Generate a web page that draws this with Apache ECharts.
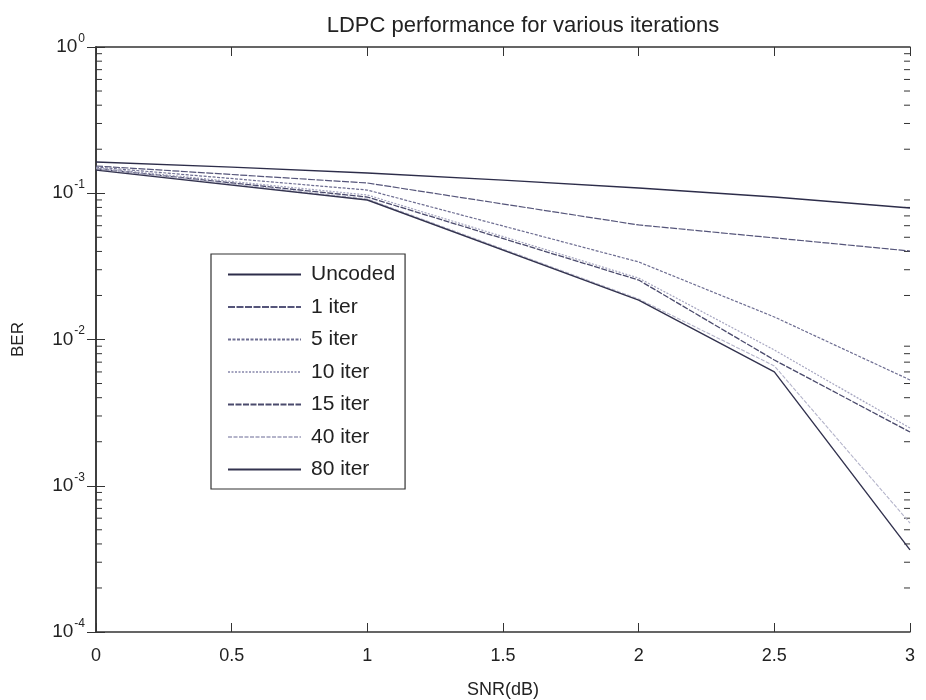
<!DOCTYPE html>
<html>
<head>
<meta charset="utf-8">
<script src="https://cdn.jsdelivr.net/npm/echarts@6/dist/echarts.min.js"></script>
<style>
  html, body { margin: 0; padding: 0; background: #fff; }
  #chart { width: 926px; height: 700px; }
</style>
</head>
<body>
<div id="chart"></div>
<script>
// SNR points (dB)
const snrUncoded = [0, 0.5, 1, 1.5, 2, 2.5, 3];
const snrCoded = [0, 1, 2, 2.5, 3];

// Bit error rates
const berUncoded = [0.1636, 0.151, 0.1375, 0.123, 0.1086, 0.0943, 0.0793];
const ber1 = [0.1536, 0.1175, 0.0607, 0.0495, 0.0403];
const ber5 = [0.151, 0.1052, 0.0339, 0.01426, 0.00529];
const ber10 = [0.149, 0.0973, 0.0263, 0.00848, 0.00248];
const ber15 = [0.147, 0.0942, 0.0255, 0.00724, 0.00233];
const ber40 = [0.147, 0.0914, 0.0189, 0.0066, 0.000556];
const ber80 = [0.144, 0.0899, 0.0186, 0.0060, 0.000364];

const seriesNames = ['Uncoded', '1 iter', '5 iter', '10 iter', '15 iter', '40 iter', '80 iter'];
const xTickLabels = ['0', '0.5', '1', '1.5', '2', '2.5', '3'];

// minor ticks of the log axis: 2..9 within each decade
const minorTicks = [];
for (let k = -4; k < 0; k++) {
  for (let m = 2; m <= 9; m++) minorTicks.push(m * Math.pow(10, k));
}

function pairs(xs, ys) { return xs.map((x, i) => [x, ys[i]]); }

const styles = [
  { color: '#2d2d4a', type: 'solid', width: 1.3 },
  { color: '#55557a', type: [7, 1.5], width: 1.2 },
  { color: '#6e6e92', type: [3, 1.5], width: 1.2 },
  { color: '#a4a4bf', type: [2, 1.5], width: 1.2 },
  { color: '#4a4a6c', type: [6, 1.5], width: 1.3 },
  { color: '#b4b4ca', type: [4, 1.5], width: 1.1 },
  { color: '#33334f', type: 'solid', width: 1.4 }
];
const dataSets = [
  pairs(snrUncoded, berUncoded),
  pairs(snrCoded, ber1),
  pairs(snrCoded, ber5),
  pairs(snrCoded, ber10),
  pairs(snrCoded, ber15),
  pairs(snrCoded, ber40),
  pairs(snrCoded, ber80)
];

const FONT = 'Liberation Sans, Arial, sans-serif';
const axisColor = '#333';
const textColor = '#222';

const lineSeries = seriesNames.map((name, i) => ({
  name: name,
  type: 'line',
  data: dataSets[i],
  symbol: 'none',
  showSymbol: false,
  smooth: false,
  xAxisIndex: 0,
  yAxisIndex: 0,
  lineStyle: { color: styles[i].color, type: styles[i].type, width: styles[i].width },
  itemStyle: { color: styles[i].color },
  emphasis: { disabled: true },
  animation: false
}));

// small inward ticks at 2..9 x 10^k on both vertical edges
const minorTickSeries = {
  type: 'custom',
  silent: true,
  animation: false,
  xAxisIndex: 0,
  yAxisIndex: 0,
  clip: false,
  data: minorTicks.map(v => [0, v]),
  renderItem: function (params, api) {
    const v = api.value(1);
    const pl = api.coord([0, v]);
    const pr = api.coord([3, v]);
    const len = 6;
    return {
      type: 'group',
      children: [
        { type: 'line', shape: { x1: pl[0], y1: pl[1], x2: pl[0] + len, y2: pl[1] }, style: { stroke: axisColor, lineWidth: 1 } },
        { type: 'line', shape: { x1: pr[0], y1: pr[1], x2: pr[0] - len, y2: pr[1] }, style: { stroke: axisColor, lineWidth: 1 } }
      ]
    };
  }
};

const logAxisBase = {
  type: 'log',
  logBase: 10,
  min: 1e-4,
  max: 1,
  splitLine: { show: false },
  axisLine: { show: true, lineStyle: { color: axisColor, width: 1.5 } },
  axisTick: { show: true, inside: true, length: 9, lineStyle: { color: axisColor, width: 1 } },
  minorTick: { show: false }
};

const valueAxisBase = {
  type: 'value',
  min: 0,
  max: 3,
  interval: 0.5,
  splitLine: { show: false },
  axisLine: { show: true, onZero: false, lineStyle: { color: axisColor, width: 1.5 } },
  axisTick: { show: true, inside: true, length: 9, lineStyle: { color: axisColor, width: 1 } }
};

const chart = echarts.init(document.getElementById('chart'), null, { renderer: 'canvas' });
chart.setOption({
  backgroundColor: '#ffffff',
  animation: false,
  title: {
    text: 'LDPC performance for various iterations',
    left: 518,
    textAlign: 'center',
    top: 10,
    textStyle: { fontFamily: FONT, fontSize: 22, fontWeight: 'normal', color: textColor }
  },
  grid: { left: 96, right: 16, top: 47, bottom: 68, containLabel: false, outerBoundsMode: 'none' },
  legend: {
    data: seriesNames,
    orient: 'vertical',
    left: 211,
    top: 254,
    itemWidth: 73,
    itemHeight: 14,
    itemGap: 7.5,
    padding: [8, 10, 7, 16],
    borderColor: '#333',
    borderWidth: 1.2,
    backgroundColor: '#fff',
    selectedMode: false,
    itemStyle: { opacity: 0 },
    textStyle: { fontFamily: FONT, fontSize: 21, color: textColor, lineHeight: 25, padding: [0, 0, 0, 5] }
  },
  xAxis: [
    Object.assign({}, valueAxisBase, {
      position: 'bottom',
      name: 'SNR(dB)',
      nameLocation: 'middle',
      nameGap: 49,
      nameTextStyle: { fontFamily: FONT, fontSize: 18, color: textColor },
      axisLabel: {
        show: true, margin: 15, fontFamily: FONT, fontSize: 18, color: textColor,
        formatter: function (v) { return xTickLabels[Math.round(v * 2)]; }
      }
    }),
    Object.assign({}, valueAxisBase, {
      position: 'top',
      axisLabel: { show: false }
    })
  ],
  yAxis: [
    Object.assign({}, logAxisBase, {
      position: 'left',
      name: 'BER',
      nameLocation: 'middle',
      nameGap: 69,
      nameRotate: 90,
      nameTextStyle: { fontFamily: FONT, fontSize: 17, color: textColor },
      axisLabel: {
        show: true,
        margin: 11,
        formatter: function (v) {
          const e = Math.round(Math.log10(v));
          return '{b|10}{e|' + e + '}';
        },
        rich: {
          b: { fontFamily: FONT, fontSize: 19, color: textColor },
          e: { fontFamily: FONT, fontSize: 12, color: textColor, padding: [0, 0, 17, 1] }
        }
      }
    }),
    Object.assign({}, logAxisBase, {
      position: 'right',
      axisLabel: { show: false }
    })
  ],
  series: lineSeries.concat([minorTickSeries])
});
</script>
</body>
</html>
